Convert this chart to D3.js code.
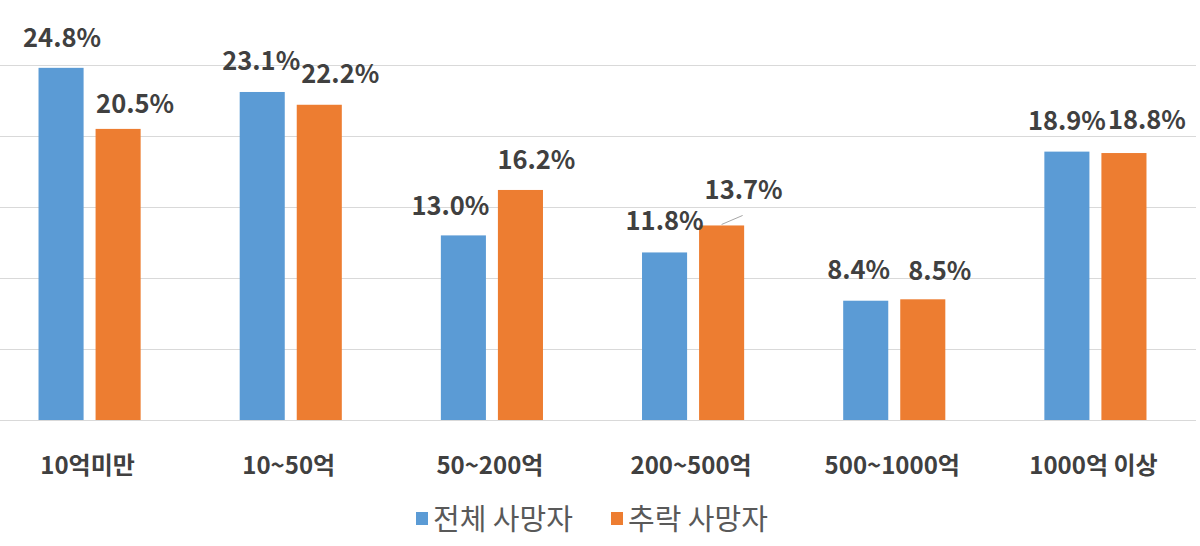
<!DOCTYPE html>
<html><head><meta charset="utf-8">
<script src="https://cdn.jsdelivr.net/npm/d3@7"></script>
<style>body{margin:0;background:#fff}svg{display:block}</style>
</head><body>
<svg id="c" width="1200" height="546"></svg>
<script>
const categories = ["10억미만","10~50억","50~200억","200~500억","500~1000억","1000억 이상"];
const seriesNames = ["전체 사망자","추락 사망자"];
const totalDeaths = [24.8, 23.1, 13.0, 11.8, 8.4, 18.9];
const fallDeaths = [20.5, 22.2, 16.2, 13.7, 8.5, 18.8];
const yTicks = [0, 5, 10, 15, 20, 25];

// label nudges (layout, not data): [dx, dy] relative to bar top centre
const labelNudge = [
  [[1,-21],[17,-16]],
  [[-1,-22],[21,-22]],
  [[-13,-20],[16,-21]],
  [[0,-22],[22,-26]],
  [[-7,-22],[17,-19]],
  [[0,-22],[23,-24]]
];
const colors = ["#5B9BD5","#ED7D31"];
const FONT = "'Noto Sans CJK KR','Noto Sans',sans-serif";

const svg = d3.select("#c");
const x = d3.scaleBand().domain(categories).range([-11, 1196]);
const x1 = d3.scaleBand().domain(seriesNames).range([0, x.bandwidth()]).paddingInner(0.21).paddingOuter(0.868);
const y = d3.scaleLinear().domain([0, 25]).range([420, 65]);

svg.append("g").selectAll("line").data(yTicks).join("line")
  .attr("x1", 0).attr("x2", 1196)
  .attr("y1", d => Math.round(y(d)) + 0.5).attr("y2", d => Math.round(y(d)) + 0.5)
  .attr("stroke", "#D9D9D9").attr("stroke-width", 1);

const data = categories.map((c, i) => ({c, i, vals: [totalDeaths[i], fallDeaths[i]]}));
const g = svg.append("g").selectAll("g").data(data).join("g")
  .attr("transform", d => `translate(${x(d.c)},0)`);

g.selectAll("rect").data(d => d.vals.map((v, s) => ({v, s, i: d.i}))).join("rect")
  .attr("x", d => x1(seriesNames[d.s])).attr("width", x1.bandwidth())
  .attr("y", d => y(d.v)).attr("height", d => y(0) - y(d.v))
  .attr("fill", d => colors[d.s]);

// leader line for 13.7%
g.each(function(d){
  const sel = d3.select(this);
  if (d.i === 3) {
    const s = 1, v = d.vals[s];
    const bx = x1(seriesNames[s]) + x1.bandwidth()/2;
    sel.append("line")
      .attr("x1", bx).attr("y1", y(v) - 1)
      .attr("x2", bx + 21).attr("y2", y(v) - 10)
      .attr("stroke", "#A6A6A6").attr("stroke-width", 1);
  }
});

g.selectAll("text.lab").data(d => d.vals.map((v, s) => ({v, s, i: d.i}))).join("text")
  .attr("class", "lab")
  .attr("x", d => x1(seriesNames[d.s]) + x1.bandwidth()/2 + labelNudge[d.i][d.s][0])
  .attr("y", d => y(d.v) + labelNudge[d.i][d.s][1])
  .attr("text-anchor", "middle")
  .attr("font-family", FONT)
  .attr("font-weight", 700).attr("font-size", 25.5).attr("fill", "#404040")
  .text(d => d.v.toFixed(1) + "%");

// category axis labels
svg.append("g").selectAll("text").data(categories).join("text")
  .attr("x", d => x(d) + x.bandwidth()/2 - 2).attr("y", 474)
  .attr("text-anchor", "middle")
  .attr("font-family", FONT)
  .attr("font-weight", 700).attr("font-size", 24).attr("fill", "#404040")
  .text(d => d);

// legend
const legX = [416, 611];
const leg = svg.append("g").selectAll("g").data(seriesNames).join("g")
  .attr("transform", (d, i) => `translate(${legX[i]},0)`);
leg.append("rect").attr("x", 0).attr("y", 512).attr("width", 12).attr("height", 13)
  .attr("fill", (d, i) => colors[i]);
leg.append("text").attr("x", 17).attr("y", 530)
  .attr("font-family", FONT)
  .attr("font-size", 29).attr("fill", "#595959")
  .text(d => d);
</script>
</body></html>
